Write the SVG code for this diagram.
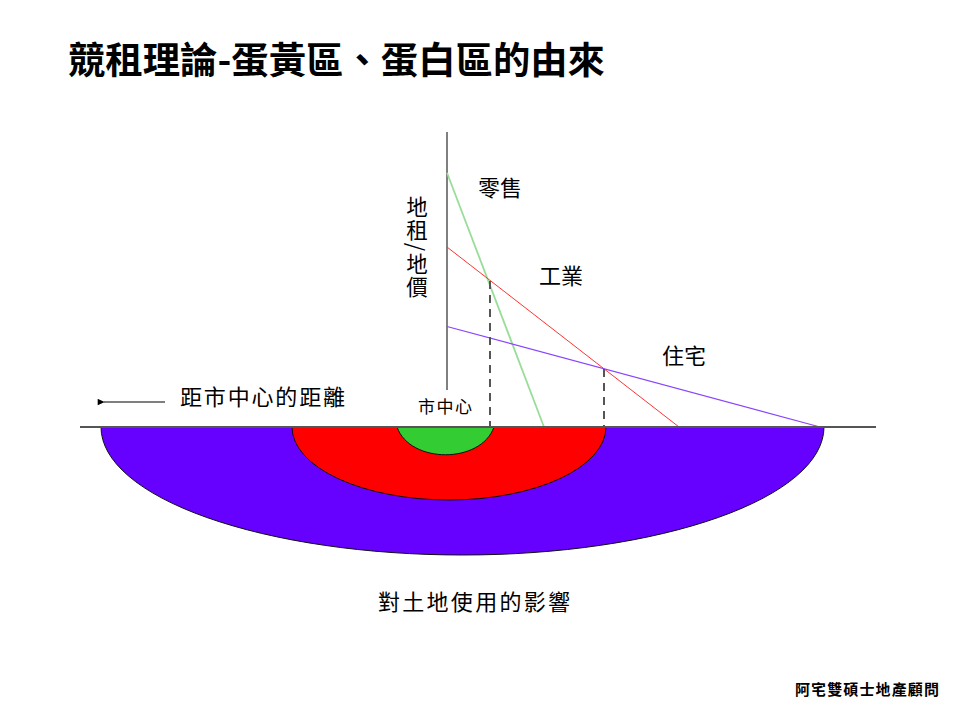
<svg xmlns="http://www.w3.org/2000/svg" width="960" height="720" viewBox="0 0 960 720">
<defs>
<style>
.t{font-family:"Noto Sans CJK TC","Noto Sans CJK SC",sans-serif;fill:#000;}
.lbl{font-size:22px;}
.zone{stroke:#111;stroke-width:1;}
.dash{stroke:#555;stroke-width:2;stroke-dasharray:8 6;fill:none;}
</style>
<marker id="ah" viewBox="0 0 10 10" refX="1" refY="5" markerWidth="10" markerHeight="7" orient="auto-start-reverse" markerUnits="userSpaceOnUse">
<path d="M0,5 L10,0.5 L10,9.5 Z" fill="#000"/>
</marker>
</defs>
<rect width="960" height="720" fill="#fff"/>
<text id="title" class="t" x="68" y="74" font-size="37" font-weight="bold" textLength="537" lengthAdjust="spacingAndGlyphs">競租理論-蛋黃區、蛋白區的由來</text>

<g id="zones">
<path id="zone-residential" class="zone" d="M101,427 A361.5,128 0 0 0 824,427 Z" fill="#6600ff"/>
<path id="zone-industrial" class="zone" d="M292,427 A157,73 0 0 0 606,427 Z" fill="#ff0000"/>
<path id="zone-retail" class="zone" d="M397,427 C410,464 481,464 494,427 Z" fill="#33cc33"/>
</g>

<g id="connectors">
<line x1="447" y1="132" x2="447" y2="390" stroke="#808080" stroke-width="2"/>
<line x1="447" y1="172.7" x2="544" y2="427" stroke="#99dd99" stroke-width="1.8"/>
<line x1="447" y1="247" x2="679" y2="427" stroke="#ff3333" stroke-width="1"/>
<line x1="447" y1="326.5" x2="820" y2="427" stroke="#8844ff" stroke-width="1.2"/>
<line class="dash" x1="490" y1="281" x2="490" y2="427"/>
<line class="dash" x1="604" y1="369" x2="604" y2="427"/>
<line x1="80" y1="427" x2="876" y2="427" stroke="#555" stroke-width="2"/>
<line x1="104" y1="402" x2="165" y2="402" stroke="#000" stroke-width="1.2" marker-start="url(#ah)"/>
</g>

<g id="label-retail"><text class="t lbl" x="478" y="196">零售</text></g>
<g id="label-industrial"><text class="t lbl" x="539" y="284">工業</text></g>
<g id="label-residential"><text class="t lbl" x="662" y="364">住宅</text></g>
<g id="label-yaxis"><text class="t" font-size="21.5" x="417" y="196" writing-mode="vertical-rl" textLength="102">地租/地價</text></g>
<g id="label-center"><text class="t" x="418" y="413" font-size="17" textLength="54">市中心</text></g>
<g id="label-distance"><text class="t lbl" x="180" y="405" textLength="165">距市中心的距離</text></g>
<g id="label-caption"><text class="t lbl" x="378" y="610" textLength="192">對土地使用的影響</text></g>
<g id="label-credit"><text class="t" x="795" y="695" font-size="15" font-weight="bold" textLength="144">阿宅雙碩士地產顧問</text></g>
</svg>
